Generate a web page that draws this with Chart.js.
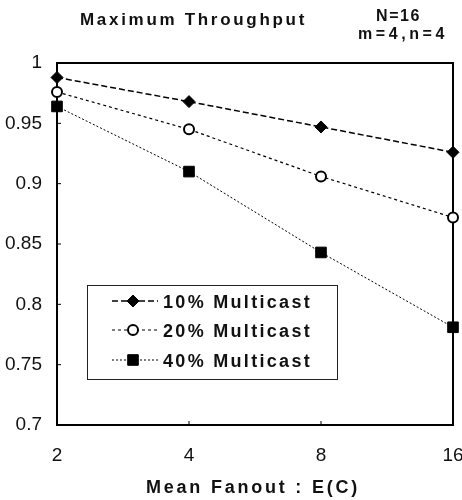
<!DOCTYPE html>
<html>
<head>
<meta charset="utf-8">
<script src="https://cdn.jsdelivr.net/npm/chart.js@4/dist/chart.umd.min.js"></script>
<style>
  html, body { margin: 0; padding: 0; background: #fff; }
  #wrap { width: 462px; height: 500px; position: relative; }
</style>
</head>
<body>
<div id="wrap"><canvas id="c" width="462" height="500"></canvas></div>
<script>
// ---- data ----
const categories = ['2', '4', '8', '16'];
const multicast10 = [0.988, 0.968, 0.947, 0.926];
const multicast20 = [0.976, 0.945, 0.906, 0.872];
const multicast40 = [0.964, 0.910, 0.843, 0.781];
const seriesNames = ['10% Multicast', '20% Multicast', '40% Multicast'];
const yTicks = [0.7, 0.75, 0.8, 0.85, 0.9, 0.95, 1];
const chartTitle = 'Maximum Throughput';
const noteLine1 = 'N=16';
const noteLine2 = 'm=4,n=4';
const xTitle = 'Mean Fanout : E(C)';

const FONT = '"Liberation Sans", Arial, sans-serif';

function spacedText(ctx, text, left, baseline, font, width) {
  ctx.save();
  ctx.font = font;
  ctx.letterSpacing = '0px';
  const w = ctx.measureText(text).width;
  const sp = Math.max(0, (width - w) / text.length);
  ctx.letterSpacing = sp + 'px';
  ctx.textAlign = 'left';
  ctx.textBaseline = 'alphabetic';
  ctx.fillStyle = '#111';
  ctx.fillText(text, left, baseline);
  ctx.restore();
}

const decorations = {
  id: 'decorations',
  beforeDatasetsDraw(chart) {
    const ctx = chart.ctx, a = chart.chartArea;
    ctx.save();
    ctx.strokeStyle = '#000';
    ctx.lineWidth = 2;
    ctx.strokeRect(a.left, a.top, a.right - a.left, a.bottom - a.top);
    ctx.lineWidth = 1;
    const ys = chart.scales.y;
    yTicks.forEach(v => {
      const py = ys.getPixelForValue(v);
      ctx.beginPath(); ctx.moveTo(a.left, py); ctx.lineTo(a.left + 4, py); ctx.stroke();
    });
    const xs = chart.scales.x;
    categories.forEach((c, i) => {
      const px = xs.getPixelForValue(i);
      ctx.beginPath(); ctx.moveTo(px, a.bottom); ctx.lineTo(px, a.bottom - 4); ctx.stroke();
    });
    ctx.restore();
  },
  afterDraw(chart) {
    const ctx = chart.ctx;
    spacedText(ctx, chartTitle, 80, 25, 'bold 17px ' + FONT, 227);
    spacedText(ctx, noteLine1, 376, 21, 'bold 16px ' + FONT, 45);
    spacedText(ctx, noteLine2, 358, 39, 'bold 16px ' + FONT, 90);
    spacedText(ctx, xTitle, 146, 493, 'bold 18px ' + FONT, 214);

    const box = { l: 87, t: 285, r: 337, b: 379 };
    ctx.save();
    ctx.strokeStyle = '#222';
    ctx.lineWidth = 1;
    ctx.strokeRect(box.l + 0.5, box.t + 0.5, box.r - box.l, box.b - box.t);
    const rows = [301, 330, 360];
    chart.data.datasets.forEach((ds, i) => {
      const y = rows[i];
      ctx.save();
      ctx.strokeStyle = ds.borderColor;
      ctx.lineWidth = ds.borderWidth;
      ctx.setLineDash(ds.borderDash || []);
      ctx.beginPath(); ctx.moveTo(112, y); ctx.lineTo(158, y); ctx.stroke();
      ctx.restore();
      ctx.save();
      ctx.fillStyle = ds.pointBackgroundColor;
      ctx.strokeStyle = ds.pointBorderColor;
      ctx.lineWidth = ds.pointBorderWidth;
      ctx.beginPath();
      Chart.helpers.drawPoint(ctx, {
        pointStyle: ds.pointStyle, radius: ds.pointRadius,
        borderWidth: ds.pointBorderWidth, rotation: 0
      }, 133, y);
      ctx.restore();
      spacedText(ctx, ds.label, 163, y + 6.5, 'bold 18px ' + FONT, 149);
    });
    ctx.restore();
  }
};

const common = { borderColor: '#000', pointBorderColor: '#000', fill: false, tension: 0, clip: false };

new Chart(document.getElementById('c'), {
  type: 'line',
  data: {
    labels: categories,
    datasets: [
      Object.assign({}, common, {
        label: seriesNames[0], data: multicast10,
        borderWidth: 1.5, borderDash: [6, 3],
        pointStyle: 'rectRot', pointRadius: 6, pointBorderWidth: 1,
        pointBackgroundColor: '#000'
      }),
      Object.assign({}, common, {
        label: seriesNames[1], data: multicast20,
        borderWidth: 1.2, borderDash: [3, 3],
        pointStyle: 'circle', pointRadius: 5, pointBorderWidth: 2,
        pointBackgroundColor: '#fff'
      }),
      Object.assign({}, common, {
        label: seriesNames[2], data: multicast40,
        borderWidth: 1, borderDash: [2, 2],
        pointStyle: 'rect', pointRadius: 7.5, pointBorderWidth: 1,
        pointBackgroundColor: '#000'
      })
    ]
  },
  options: {
    responsive: false,
    animation: false,
    layout: { padding: { left: 0, right: 9, top: 63, bottom: 0 } },
    plugins: { legend: { display: false }, tooltip: { enabled: false }, title: { display: false } },
    scales: {
      x: {
        type: 'category',
        offset: false,
        grid: { display: false, drawTicks: false },
        border: { display: false },
        ticks: { color: '#111', font: { family: FONT, size: 19 }, padding: 19, maxRotation: 0, autoSkip: false },
        afterFit(scale) { scale.height = 75; scale.paddingLeft = 0; scale.paddingRight = 0; }
      },
      y: {
        min: 0.7, max: 1,
        afterBuildTicks(scale) { scale.ticks = yTicks.map(v => ({ value: v })); },
        grid: { display: false, drawTicks: false },
        border: { display: false },
        ticks: {
          color: '#111', font: { family: FONT, size: 19 }, padding: 15,
          callback: v => String(+Number(v).toFixed(2))
        },
        afterFit(scale) { scale.width = 57; scale.paddingTop = 0; scale.paddingBottom = 0; }
      }
    }
  },
  plugins: [decorations]
});
</script>
</body>
</html>
